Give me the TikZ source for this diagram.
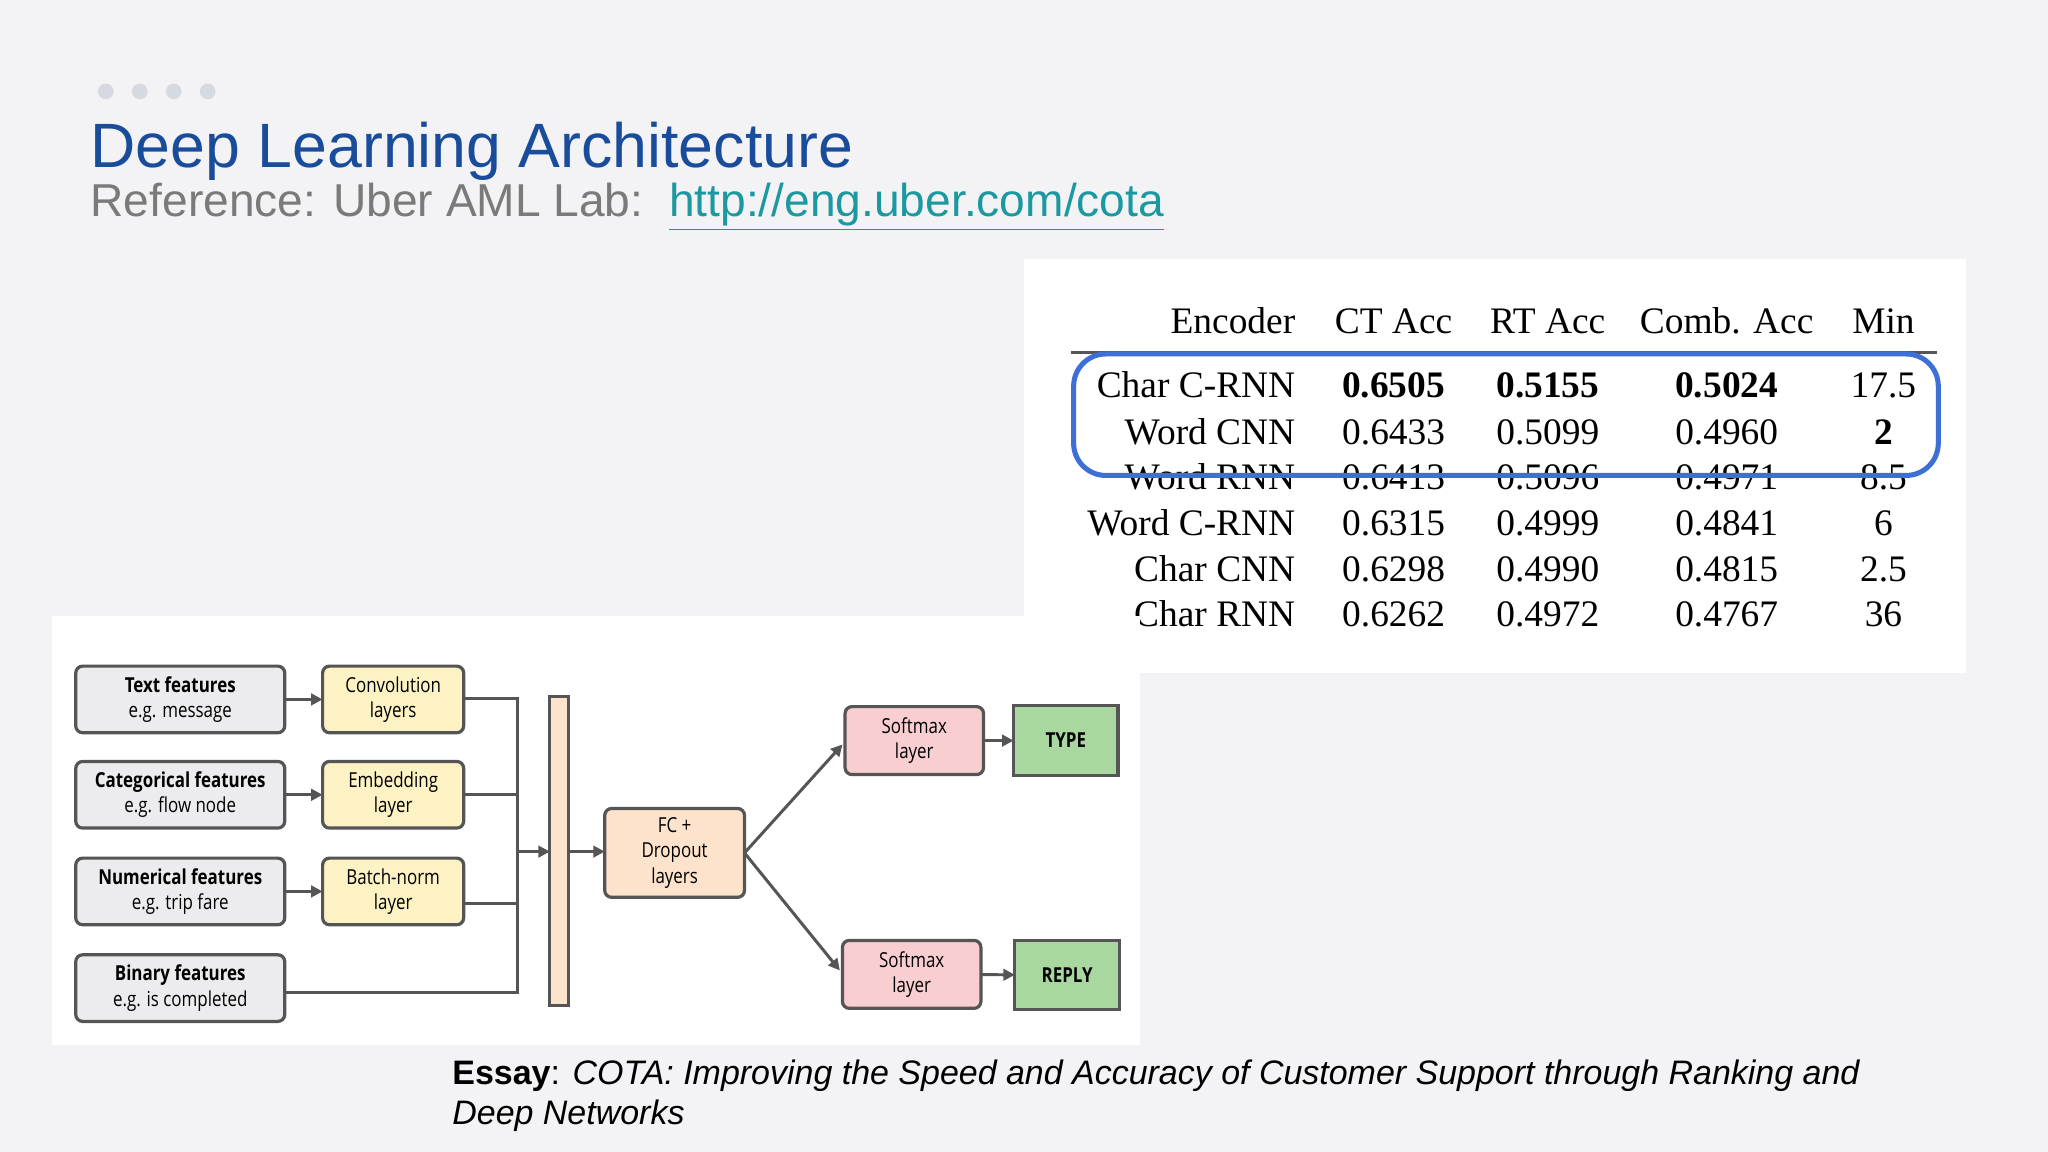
\documentclass[tikz,border=0pt]{standalone}
\usepackage{fontspec}
\setmainfont{Liberation Sans}
\newfontfamily\tabfont{Liberation Serif}
\newfontfamily\dfont{Open Sans}[FakeStretch=0.82]
\usetikzlibrary{arrows.meta}
\definecolor{bg}{HTML}{F3F3F5}
\definecolor{ttl}{HTML}{1A4C9C}
\definecolor{sub}{HTML}{7A7A7A}
\definecolor{lnk}{HTML}{1B98A0}
\definecolor{dotc}{HTML}{D6D9DF}
\definecolor{edge}{HTML}{555555}
\definecolor{gbox}{HTML}{ECECEE}
\definecolor{ybox}{HTML}{FDF2C4}
\definecolor{pbox}{HTML}{F9CED1}
\definecolor{obox}{HTML}{FDE3CC}
\definecolor{grn}{HTML}{A8D8A0}
\definecolor{blu}{HTML}{3D6FD6}
\newcommand\bx[7]{\node[#6,minimum width={(#4-#2)*0.02cm},minimum height={(#5-#3)*0.02cm}] (#1) at ({(#2+#4)/2},{(#3+#5)/2}) {#7};}
\tikzset{
 box/.style={draw=edge,line width=1.4pt,rounded corners=3pt,inner sep=0pt,outer sep=0pt,align=center,font=\dfont\fontsize{9}{11}\selectfont},
 gryb/.style={box,fill=gbox},
 yelb/.style={box,fill=ybox},
 pnkb/.style={box,fill=pbox},
 orgb/.style={box,fill=obox},
 outb/.style={box,fill=grn,rounded corners=0pt},
 con/.style={draw=edge,line width=1.3pt},
 arr/.style={con,-{Triangle[length=5pt,width=5pt]}},
 tc/.style={font=\tabfont\fontsize{16.3}{20}\selectfont,inner sep=0pt,anchor=base},
 tl/.style={tc,anchor=base east},
}
\begin{document}
\begin{tikzpicture}[x=0.02cm,y=-0.02cm]
\useasboundingbox (0,0) rectangle (1568,882);
\fill[bg] (0,0) rectangle (1568,882);
\foreach \x in {81,107,133,159} \fill[dotc] (\x,70) circle (6);
\node[anchor=base west,inner sep=0pt,text=ttl,font=\fontsize{27.3}{32}\selectfont] (title) at (69,128) {Deep Learning Architecture};
\node[anchor=base west,inner sep=0pt,text=sub,font=\fontsize{20.1}{24}\selectfont] (subt) at (69,166) {Reference: Uber AML Lab:\ \ \textcolor{lnk}{\underline{http://eng.uber.com/cota}}};
% table panel
\fill[white] (784,198) rectangle (1505,515);
\node[tl] (h0) at (992,255) {Encoder};
\node[tc] (h1) at (1067,255) {CT Acc};
\node[tc] (h2) at (1185,255) {RT Acc};
\node[tc] (h3) at (1322,255) {Comb. Acc};
\node[tc] (h4) at (1442,255) {Min};
\draw[edge,line width=1.2pt] (820,270) -- (1483,270);
\foreach \y/\a/\b/\c/\d/\e in {304/Char C-RNN/\textbf{0.6505}/\textbf{0.5155}/\textbf{0.5024}/17.5,
 340/Word CNN/0.6433/0.5099/0.4960/\textbf{2},
 375/Word RNN/0.6413/0.5096/0.4971/8.5,
 410/Word C-RNN/0.6315/0.4999/0.4841/6,
 445/Char CNN/0.6298/0.4990/0.4815/2.5,
 480/Char RNN/0.6262/0.4972/0.4767/36}{
 \node[tl] at (992,\y) {\a};
 \node[tc] at (1067,\y) {\b};
 \node[tc] at (1185,\y) {\c};
 \node[tc] at (1322,\y) {\d};
 \node[tc] at (1442,\y) {\e};
}
\draw[blu,line width=2.2pt,rounded corners=14pt] (822,271) rectangle (1484,364);
% diagram panel
\fill[white] (40,472) rectangle (873,800);
\bx{tf}{58}{510}{218}{561}{gryb}{\textbf{Text features}\\e.g. message}
\bx{cf}{58}{583}{218}{634}{gryb}{\textbf{Categorical features}\\e.g. flow node}
\bx{nf}{58}{657}{218}{708}{gryb}{\textbf{Numerical features}\\e.g. trip fare}
\bx{bf}{58}{731}{218}{782}{gryb}{\textbf{Binary features}\\e.g. is completed}
\bx{cv}{247}{510}{355}{561}{yelb}{Convolution\\layers}
\bx{em}{247}{583}{355}{634}{yelb}{Embedding\\layer}
\bx{bn}{247}{657}{355}{708}{yelb}{Batch-norm\\layer}
\bx{bar}{421}{533}{435}{770}{orgb,rounded corners=0pt}{}
\bx{fc}{463}{619}{570}{687}{orgb}{FC +\\Dropout\\layers}
\bx{s1}{647}{541}{753}{593}{pnkb}{Softmax\\layer}
\bx{s2}{645}{720}{751}{772}{pnkb}{Softmax\\layer}
\bx{ty}{776}{540}{856}{594}{outb}{\textbf{TYPE}}
\bx{rp}{777}{720}{857}{773}{outb}{\textbf{REPLY}}
\coordinate (b1) at (396,535);
\coordinate (b4) at (396,760);
\coordinate (bm) at (396,652);
\draw[arr] (tf) -- (cv);
\draw[arr] (cf) -- (em);
\draw[arr] (nf) -- (bn);
\draw[con] (cv.east |- b1) -- (b1) -- (b4) -- (bf.east |- b4);
\draw[con] (em.east |- 0,608) -- (396,608);
\draw[con] (bn.east |- 0,692) -- (396,692);
\draw[arr] (bm) -- (bar.west |- bm);
\draw[arr] (bar.east |- bm) -- (fc.west |- bm);
\draw[arr] (fc.east) -- (645,570);
\draw[arr] (fc.east) -- (643,743);
\draw[arr] (s1) -- (ty);
\draw[arr] (s2) -- (rp);
% caption
\node[anchor=base west,inner sep=0pt,font=\fontsize{14.8}{18}\selectfont] (cap1) at (346,830) {\textbf{Essay}: \textit{COTA: Improving the Speed and Accuracy of Customer Support through Ranking and}};
\node[anchor=base west,inner sep=0pt,font=\fontsize{14.8}{18}\selectfont] (cap2) at (346,861) {\textit{Deep Networks}};
\end{tikzpicture}
\end{document}
